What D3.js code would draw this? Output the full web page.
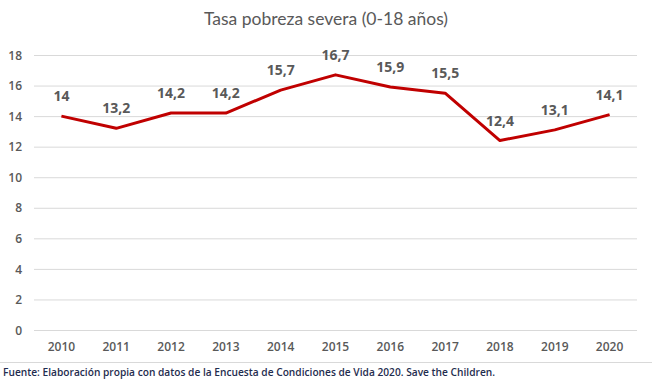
<!DOCTYPE html>
<html>
<head>
<meta charset="utf-8">
<script src="https://cdn.jsdelivr.net/npm/d3@7"></script>
<style>
  body { margin: 0; background: #fff; }
  svg { display: block; }
</style>
</head>
<body>
<script>
// datos
const years = ["2010", "2011", "2012", "2013", "2014", "2015", "2016", "2017", "2018", "2019", "2020"];
const values = [14, 13.2, 14.2, 14.2, 15.7, 16.7, 15.9, 15.5, 12.4, 13.1, 14.1];
const yTicks = [0, 2, 4, 6, 8, 10, 12, 14, 16, 18];

const width = 652, height = 384;
const margin = { top: 55, right: 15, bottom: 54, left: 34 };

const svg = d3.select("body").append("svg")
    .attr("width", width)
    .attr("height", height);

const x = d3.scaleBand()
    .domain(years)
    .range([margin.left, width - margin.right]);
const y = d3.scaleLinear()
    .domain([0, 18])
    .range([height - margin.bottom, margin.top]);

// titulo
svg.append("text")
    .attr("x", width / 2)
    .attr("y", 25)
    .attr("text-anchor", "middle")
    .style("font-family", "Lato, 'DejaVu Sans', sans-serif")
    .style("font-size", "17.5px")
    .style("fill", "#595959")
    .text("Tasa pobreza severa (0-18 años)");

// grid
svg.append("g")
    .selectAll("line")
    .data(yTicks)
    .join("line")
    .attr("x1", margin.left)
    .attr("x2", width - margin.right)
    .attr("y1", d => y(d) + 0.5)
    .attr("y2", d => y(d) + 0.5)
    .style("stroke", "#d9d9d9")
    .style("stroke-width", 1);

// eje y
const yAxis = svg.append("g")
    .attr("transform", "translate(" + (margin.left - 12) + ",0)")
    .call(d3.axisLeft(y).tickValues(yTicks).tickSize(0).tickPadding(0));
yAxis.select(".domain").remove();

// eje x
const xAxis = svg.append("g")
    .attr("transform", "translate(0," + (height - margin.bottom + 10) + ")")
    .call(d3.axisBottom(x).tickSize(0).tickPadding(0));
xAxis.select(".domain").remove();

svg.selectAll(".tick text")
    .style("font-family", "'Open Sans', sans-serif")
    .style("font-size", "12px")
    .style("font-weight", "600")
    .style("fill", "#595959");
yAxis.selectAll(".tick text").attr("dy", "0.35em");
xAxis.selectAll(".tick text").attr("dy", "0.9em");

// linea
const line = d3.line()
    .x((d, i) => x(years[i]) + x.bandwidth() / 2)
    .y(d => y(d));

svg.append("path")
    .datum(values)
    .attr("d", line)
    .style("fill", "none")
    .style("stroke", "#c00000")
    .style("stroke-width", 3)
    .style("stroke-linejoin", "round");

// etiquetas
svg.append("g")
    .selectAll("text")
    .data(values)
    .join("text")
    .attr("x", (d, i) => x(years[i]) + x.bandwidth() / 2)
    .attr("y", d => y(d) - 15)
    .attr("text-anchor", "middle")
    .style("font-family", "'Open Sans', sans-serif")
    .style("font-size", "14px")
    .style("font-weight", "700")
    .style("fill", "#595959")
    .text(d => String(d).replace(".", ","));

// fuente
svg.append("line")
    .attr("x1", 0)
    .attr("x2", width)
    .attr("y1", 362.5)
    .attr("y2", 362.5)
    .style("stroke", "#d9d9d9");

svg.append("text")
    .attr("x", 3)
    .attr("y", 376)
    .attr("textLength", 492)
    .attr("lengthAdjust", "spacingAndGlyphs")
    .style("font-family", "'Open Sans', sans-serif")
    .style("font-size", "11px")
    .style("font-weight", "600")
    .style("fill", "#1f2d4f")
    .text("Fuente: Elaboración propia con datos de la Encuesta de Condiciones de Vida 2020. Save the Children.");
</script>
</body>
</html>
